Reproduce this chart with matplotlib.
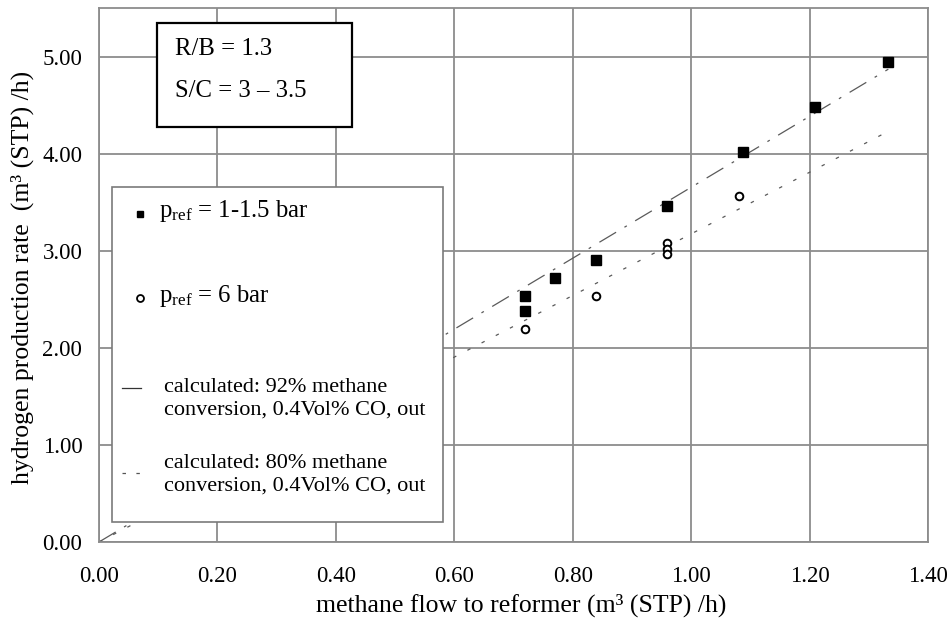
import matplotlib
matplotlib.use("Agg")
import matplotlib.pyplot as plt
from matplotlib.patches import Rectangle

plt.rcParams['font.family'] = ['Liberation Serif', 'DejaVu Serif']
plt.rcParams['mathtext.fontset'] = 'custom'
plt.rcParams['mathtext.rm'] = 'Liberation Serif'
plt.rcParams['mathtext.it'] = 'Liberation Serif:italic'
plt.rcParams['lines.scale_dashes'] = False

# measured points, p_ref = 1-1.5 bar
low_p_flow = [0.72, 0.72, 0.77, 0.84, 0.96, 1.087, 1.21, 1.333]
low_p_h2 = [2.53, 2.38, 2.72, 2.90, 3.46, 4.02, 4.48, 4.94]

# measured points, p_ref = 6 bar
high_p_flow = [0.72, 0.84, 0.96, 0.96, 0.96, 1.08]
high_p_h2 = [2.19, 2.53, 3.08, 3.02, 2.97, 3.56]

# calculated lines
calc_flow = [0.0, 1.333]
calc_92 = [0.0, 4.87]
calc_80 = [0.0, 4.23]

fig = plt.figure(figsize=(9.49, 6.2), dpi=100)
W, H = 949, 620
left, right, top, bottom = 99, 928, 8, 542
ax = fig.add_axes([left / W, 1 - bottom / H, (right - left) / W, (bottom - top) / H])


def px(x, y):
    # pixel position in the picture -> axes fraction
    return (x - left) / (right - left), (bottom - y) / (bottom - top)


grid_col = '#8c8c8c'
ax.set_xlim(0, 1.4)
ax.set_ylim(0, 5.5)
ax.set_xticks([0, 0.2, 0.4, 0.6, 0.8, 1.0, 1.2, 1.4])
ax.set_yticks([0, 1, 2, 3, 4, 5])
ax.xaxis.set_major_formatter(plt.FormatStrFormatter('%.2f'))
ax.yaxis.set_major_formatter(plt.FormatStrFormatter('%.2f'))
ax.tick_params(length=0, labelsize=16.5, colors='black')
ax.tick_params(axis='x', pad=17)
ax.tick_params(axis='y', pad=12)
ax.grid(True, color=grid_col, linewidth=1.3)
ax.set_axisbelow(True)
for s in ax.spines.values():
    s.set_color(grid_col)
    s.set_linewidth(1.3)

ax.plot(calc_flow, calc_92, color='#5a5a5a', linewidth=0.9, dashes=(14, 7, 2, 7), zorder=2)
ax.plot(calc_flow, calc_80, color='#5a5a5a', linewidth=0.9, dashes=(2.5, 9), zorder=2)
ax.plot(low_p_flow, low_p_h2, linestyle='none', marker='s', markersize=6.5,
        color='black', zorder=3)
ax.plot(high_p_flow, high_p_h2, linestyle='none', marker='o', markersize=5.5,
        markerfacecolor='white', markeredgecolor='black', markeredgewidth=1.4, zorder=3)

ax.set_xlabel('methane flow to reformer (m³ (STP) /h)', fontsize=18.5)
ax.xaxis.label.set_va('center')
ax.xaxis.set_label_coords(*px(521, 605))
ax.set_ylabel('hydrogen production rate  (m³ (STP) /h)', fontsize=18.5)
ax.yaxis.label.set_va('center')
ax.yaxis.set_label_coords(*px(22, 277))

# parameter box
x0, y0 = px(157, 127)
x1, y1 = px(352, 23)
ax.add_patch(Rectangle((x0, y0), x1 - x0, y1 - y0, transform=ax.transAxes,
                       facecolor='white', edgecolor='black', linewidth=1.6, zorder=5))
ax.text(*px(175, 49), 'R/B = 1.3', transform=ax.transAxes, fontsize=17.8,
        va='center', ha='left', zorder=6)
ax.text(*px(175, 91), 'S/C = 3 – 3.5', transform=ax.transAxes, fontsize=17.8,
        va='center', ha='left', zorder=6)

# legend box
x0, y0 = px(112, 522)
x1, y1 = px(443, 187)
ax.add_patch(Rectangle((x0, y0), x1 - x0, y1 - y0, transform=ax.transAxes,
                       facecolor='white', edgecolor='#7a7a7a', linewidth=1.2, zorder=5))
ax.plot(*px(140, 214), transform=ax.transAxes, marker='s', markersize=5,
        color='black', zorder=6, clip_on=False)
ax.plot(*px(140, 298), transform=ax.transAxes, marker='o', markersize=5,
        markerfacecolor='white', markeredgecolor='black', markeredgewidth=1.3,
        zorder=6, clip_on=False)
lx0, ly = px(122, 388)
lx1, _ = px(141, 388)
ax.plot([lx0, lx1], [ly, ly], transform=ax.transAxes, color='#333333',
        linewidth=0.9, zorder=6)
lx0, ly = px(122, 473)
lx1, _ = px(141, 473)
ax.plot([lx0, lx1], [ly, ly], transform=ax.transAxes, color='#555555',
        linewidth=0.9, dashes=(2.5, 7.5), zorder=6)

ax.text(*px(159, 211), r'p$_{\mathrm{ref}}$ = 1-1.5 bar', transform=ax.transAxes,
        fontsize=17.8, va='center', ha='left', zorder=6)
ax.text(*px(159, 296), r'p$_{\mathrm{ref}}$ = 6 bar', transform=ax.transAxes,
        fontsize=17.8, va='center', ha='left', zorder=6)
ax.text(*px(164, 399), 'calculated: 92% methane\nconversion, 0.4Vol% CO, out',
        transform=ax.transAxes, fontsize=16, va='center', ha='left',
        linespacing=1.22, zorder=6)
ax.text(*px(164, 475), 'calculated: 80% methane\nconversion, 0.4Vol% CO, out',
        transform=ax.transAxes, fontsize=16, va='center', ha='left',
        linespacing=1.22, zorder=6)

fig.savefig('out.png', dpi=100)
